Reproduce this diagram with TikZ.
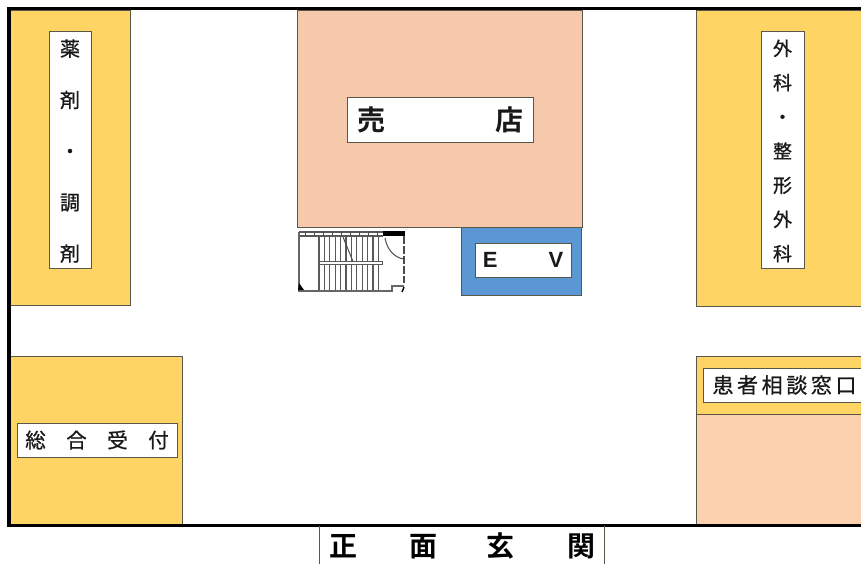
\documentclass[tikz,border=0pt]{standalone}
\usepackage{fontspec}
\newfontfamily\cjk[FakeBold=0.8]{Noto Sans CJK JP}
\newfontfamily\cjkh{Noto Sans CJK JP Bold}
\setsansfont{Liberation Sans}
\newcommand{\fs}[2]{\fontsize{#1}{#2}\selectfont}
\tikzset{
  roomy/.style={fill=roomyellow,draw=edgegray,line width=.8pt},
  roomp/.style={fill=roompeach,draw=edgegray,line width=.8pt},
  tag/.style={fill=white,draw=edgegray,line width=.8pt,inner sep=0pt,align=center,text=black!90,anchor=center},
  wall/.style={line width=3.2pt,draw=black},
  stairline/.style={draw=black!65,line width=1.1pt},
  stairwall/.style={draw=black!60,line width=2pt},
}
\definecolor{roomyellow}{HTML}{FED565}
\definecolor{roompeach}{HTML}{F7C9AC}
\definecolor{roompeachb}{HTML}{FBD1B0}
\definecolor{evblue}{HTML}{5B97D3}
\definecolor{edgegray}{HTML}{5A5648}
\begin{document}
\begin{tikzpicture}[x=1pt,y=-1pt]
\useasboundingbox (0,0) rectangle (861,564);
\clip (0,0) rectangle (861,564);
\fill[white] (0,0) rectangle (861,564);
% rooms
\draw[roomy] (10,10) rectangle (130,305);
\draw[roomp] (297,10) rectangle (582,227);
\draw[fill=evblue,draw=edgegray,line width=.8pt] (461,227) rectangle (581,295);
\draw[roomy] (696,10) rectangle (866,306);
\draw[roomy] (10,356) rectangle (182,524);
\draw[roomy] (696,356) rectangle (866,414);
\draw[fill=roompeachb,draw=edgegray,line width=.8pt] (696,414) rectangle (866,524);
% labels
\node[tag,minimum width=42pt,minimum height=237pt,font=\cjk\fs{20}{51.2}] (yakuzai) at (70,149.5) {\rule{0pt}{20pt}薬\\剤\\・\\調\\剤};
\node[tag,minimum width=43pt,minimum height=237pt,font=\cjk\fs{19}{34.2}] (geka) at (782.5,149.5) {\rule{0pt}{19pt}外\\科\\・\\整\\形\\外\\科};
\node[tag,minimum width=186pt,minimum height=45pt,font=\cjkh\fs{28}{30}] (baiten) at (440,119.5) {\raisebox{2pt}{売}\hspace{110pt}\raisebox{2pt}{店}};
\node[tag,minimum width=96pt,minimum height=34pt,font=\sffamily\bfseries\fs{22}{24}] (ev) at (523,260) {\raisebox{-1pt}{E}\hspace{51pt}\raisebox{-1pt}{V}};
\node[tag,minimum width=160pt,minimum height=34pt,font=\cjk\fs{20.5}{24}] (uketsuke) at (97,440) {総\hspace{20.5pt}合\hspace{20.5pt}受\hspace{20.5pt}付};
\node[tag,minimum width=163pt,minimum height=34pt,font=\cjk\fs{21}{24}] (soudan) at (784.5,385) {\raisebox{1pt}{患\hspace{3.6pt}者\hspace{3.6pt}相\hspace{3.6pt}談\hspace{3.6pt}窓\hspace{3.6pt}口}};
% outer walls
\draw[wall,line cap=rect] (866,8.5) -- (9,8.5) -- (9,525.5) -- (866,525.5);
% entrance
\node[inner sep=0pt,minimum width=284pt,minimum height=39pt,font=\cjkh\fs{28}{30}] (genkan) at (462,545.5) {\raisebox{-2pt}{正\hspace{52pt}面\hspace{49pt}玄\hspace{53pt}関}};
\draw[edgegray,line width=1pt] (genkan.north west) -- (genkan.south west);
\draw[edgegray,line width=1pt] (genkan.north east) -- (genkan.south east);
% stairs
\draw[stairwall] (299,232) -- (299,290.5) -- (392,290.5) -- (392,285.5) -- (404,285.5);
\draw[stairline] (299,232) -- (383,232);
\draw[stairline] (299,236) -- (383,236);
\foreach \sx in {305,314,323,332,341,350,359,368,377}
  \draw[black!70,line width=.8pt] (\sx,231) -- (\sx,236);
\fill[black] (383,231) rectangle (405,236);
\foreach \sx in {319,324.4,329.8,335.2,340.6,346,351.4,356.8,362.2,367.6,373,378.4}
  \draw[stairline] (\sx,236) -- (\sx,290);
\fill[white,draw=black!65,line width=.8pt] (319,261.5) rectangle (382,264.5);
\draw[black!70,line width=1pt] (343,237) -- (353,261.5);
\draw[black!70,line width=1pt] (385,238) .. controls (387,250) and (395,258) .. (404,259);
\draw[black!70,line width=1.3pt,dash pattern=on 8pt off 2pt] (404,236) -- (404,283);
\fill[black] (299,283) -- (304,290) -- (298,290) -- cycle;
\draw[black,line width=1.4pt] (404,287) -- (402,292);
\end{tikzpicture}
\end{document}
